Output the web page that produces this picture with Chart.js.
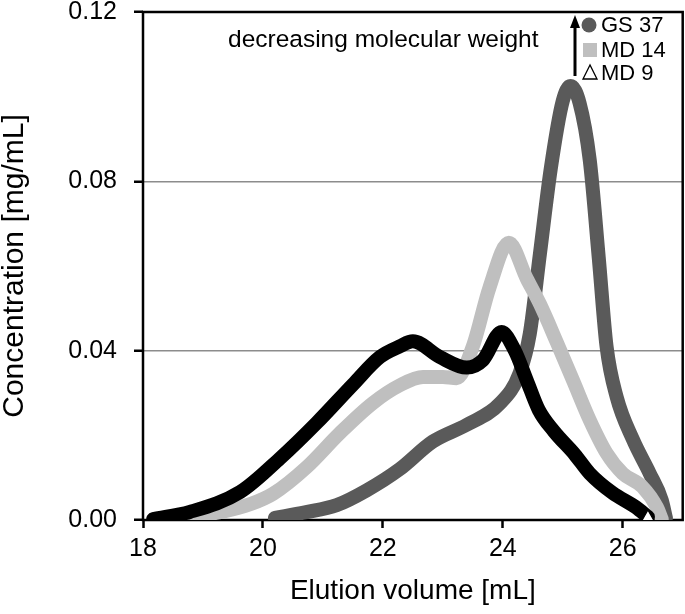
<!DOCTYPE html>
<html lang="en">
  <head>
    <meta charset="UTF-8" />
    <title>Elution profiles</title>
    <script src="https://cdn.jsdelivr.net/npm/chart.js"></script>
    <style>
      html, body { margin: 0; padding: 0; background: #fff; }
      #frame { width: 685px; height: 614px; overflow: hidden; }
      /* a little wider than the frame so the plot box reaches the right edge */
      #chart-container { width: 691px; height: 614px; position: relative; }
    </style>
  </head>
  <body>
    <div id="frame">
      <div id="chart-container">
        <canvas id="elutionChart"></canvas>
      </div>
    </div>

    <script>
      // data (elution volume in mL, concentration in mg/mL)
      const gs37X = [20.2, 20.7, 21.23, 21.73, 22.28, 22.83, 23.4, 23.95, 24.28, 24.45, 24.62, 24.8, 25.0, 25.13, 25.28, 25.45, 25.6, 25.73, 25.9, 26.17, 26.45, 26.65, 26.72];
      const gs37Y = [0.0005, 0.0018, 0.0035, 0.007, 0.012, 0.0185, 0.0225, 0.0275, 0.0347, 0.044, 0.063, 0.083, 0.099, 0.1025, 0.0985, 0.085, 0.062, 0.041, 0.029, 0.019, 0.011, 0.0047, 0.0005];

      const md14X = [18.2, 18.8, 19.33, 19.8, 20.17, 20.73, 21.28, 21.83, 22.28, 22.67, 23.0, 23.23, 23.5, 23.78, 24.1, 24.4, 24.62, 24.9, 25.17, 25.45, 25.73, 26.0, 26.33, 26.57, 26.65];
      const md14Y = [0.0002, 0.0008, 0.002, 0.0038, 0.0062, 0.0125, 0.0205, 0.0276, 0.0318, 0.0338, 0.0338, 0.0335, 0.041, 0.055, 0.0655, 0.057, 0.051, 0.042, 0.033, 0.0236, 0.0158, 0.011, 0.0078, 0.003, 0.0002];

      const md9X = [18.17, 18.78, 19.62, 20.28, 20.9, 21.5, 21.95, 22.28, 22.5, 22.95, 23.4, 23.67, 23.98, 24.2, 24.4, 24.6, 24.85, 25.2, 25.45, 25.83, 26.22, 26.42];
      const md9Y = [0.0002, 0.0019, 0.0066, 0.0145, 0.023, 0.032, 0.0385, 0.041, 0.0422, 0.0385, 0.036, 0.0378, 0.0444, 0.04, 0.033, 0.026, 0.021, 0.0155, 0.011, 0.0064, 0.003, 0.0007];

      const xTicks = [18, 20, 22, 24, 26];
      const yTicks = [0, 0.04, 0.08, 0.12];

      const FONT = "'Liberation Sans', Arial, sans-serif";
      const toPoints = (xs, ys) => xs.map((x, i) => ({ x: x, y: ys[i] }));

      // keep the plot box where the reference has it (no extra room for edge labels)
      const noEdgePadding = (s) => {
        s.paddingTop = 0;
        s.paddingBottom = 0;
        s.paddingLeft = 0;
        s.paddingRight = 0;
      };

      // box around the plot, annotation text, arrow and legend
      const overlay = {
        id: "overlay",
        beforeDatasetsDraw(chart) {
          const { ctx, chartArea: a } = chart;
          ctx.save();
          ctx.strokeStyle = "#000";
          ctx.lineWidth = 2.5;
          ctx.strokeRect(a.left, a.top, a.right - a.left, a.bottom - a.top);
          ctx.restore();
        },
        afterDraw(chart) {
          const ctx = chart.ctx;
          ctx.save();
          ctx.fillStyle = "#000";
          ctx.font = "24.5px " + FONT;
          ctx.textBaseline = "alphabetic";
          ctx.fillText("decreasing molecular weight", 228, 47);

          // arrow
          ctx.strokeStyle = "#000";
          ctx.lineWidth = 3;
          ctx.beginPath();
          ctx.moveTo(575, 76);
          ctx.lineTo(575, 26);
          ctx.stroke();
          ctx.beginPath();
          ctx.moveTo(575, 15);
          ctx.lineTo(570, 28);
          ctx.lineTo(580, 28);
          ctx.closePath();
          ctx.fill();

          // legend
          ctx.font = "22px " + FONT;
          ctx.textBaseline = "middle";
          ctx.fillStyle = "#5a5a5a";
          ctx.beginPath();
          ctx.arc(589, 25, 7.5, 0, Math.PI * 2);
          ctx.fill();
          ctx.fillStyle = "#bfbfbf";
          ctx.fillRect(583, 43, 14, 14);
          ctx.fillStyle = "#fff";
          ctx.strokeStyle = "#000";
          ctx.lineWidth = 1.3;
          ctx.beginPath();
          ctx.moveTo(590, 65);
          ctx.lineTo(583, 79);
          ctx.lineTo(597, 79);
          ctx.closePath();
          ctx.fill();
          ctx.stroke();
          ctx.fillStyle = "#000";
          ctx.fillText("GS 37", 601, 26);
          ctx.fillText("MD 14", 601, 51);
          ctx.fillText("MD 9", 601, 74);
          ctx.restore();
        },
      };

      const lineStyle = {
        borderWidth: 14,
        borderCapStyle: "round",
        borderJoinStyle: "round",
        cubicInterpolationMode: "monotone",
        fill: false,
        pointRadius: 0,
      };

      new Chart(document.getElementById("elutionChart"), {
        type: "line",
        data: {
          datasets: [
            Object.assign({}, lineStyle, {
              label: "GS 37",
              data: toPoints(gs37X, gs37Y),
              borderColor: "#5a5a5a",
              order: 3,
            }),
            Object.assign({}, lineStyle, {
              label: "MD 14",
              data: toPoints(md14X, md14Y),
              borderColor: "#bfbfbf",
              order: 2,
            }),
            Object.assign({}, lineStyle, {
              label: "MD 9",
              data: toPoints(md9X, md9Y),
              borderColor: "#000",
              order: 1,
              pointStyle: "triangle",
              pointRadius: (c) => (c.dataIndex === md9X.length - 1 ? 7 : 0),
              pointBackgroundColor: "#fff",
              pointBorderColor: "#000",
              pointBorderWidth: 1.3,
            }),
          ],
        },
        options: {
          responsive: true,
          maintainAspectRatio: false,
          animation: false,
          events: [],
          devicePixelRatio: 1,
          layout: { padding: { top: 12, right: 2, left: 0, bottom: 0 } },
          plugins: { legend: { display: false }, tooltip: { enabled: false } },
          scales: {
            x: {
              type: "linear",
              min: 18,
              max: 27,
              afterFit: (s) => { s.height = 94; noEdgePadding(s); },
              afterBuildTicks: (s) => { s.ticks = xTicks.map((v) => ({ value: v })); },
              ticks: { color: "#000", font: { family: FONT, size: 25 }, padding: 6, maxRotation: 0 },
              grid: { drawOnChartArea: false, tickLength: 8, tickColor: "#000", tickWidth: 2.5 },
              border: { display: false },
              title: {
                display: true,
                text: "Elution volume [mL]",
                color: "#000",
                font: { family: FONT, size: 28 },
                padding: { top: 0, bottom: 6 },
              },
            },
            y: {
              min: 0,
              max: 0.12,
              afterFit: (s) => { s.width = 143; noEdgePadding(s); },
              afterBuildTicks: (s) => { s.ticks = yTicks.map((v) => ({ value: v })); },
              ticks: {
                color: "#000",
                font: { family: FONT, size: 25 },
                padding: 17,
                callback: (v) => v.toFixed(2),
              },
              grid: { color: "#8c8c8c", lineWidth: 1.5, tickLength: 9, tickColor: "#000", tickWidth: 2.5 },
              border: { display: false },
              title: {
                display: true,
                text: "Concentration [mg/mL]",
                color: "#000",
                font: { family: FONT, size: 30, lineHeight: 1 },
                padding: { top: 0, bottom: 0 },
              },
            },
          },
        },
        plugins: [overlay],
      });
    </script>
  </body>
</html>
